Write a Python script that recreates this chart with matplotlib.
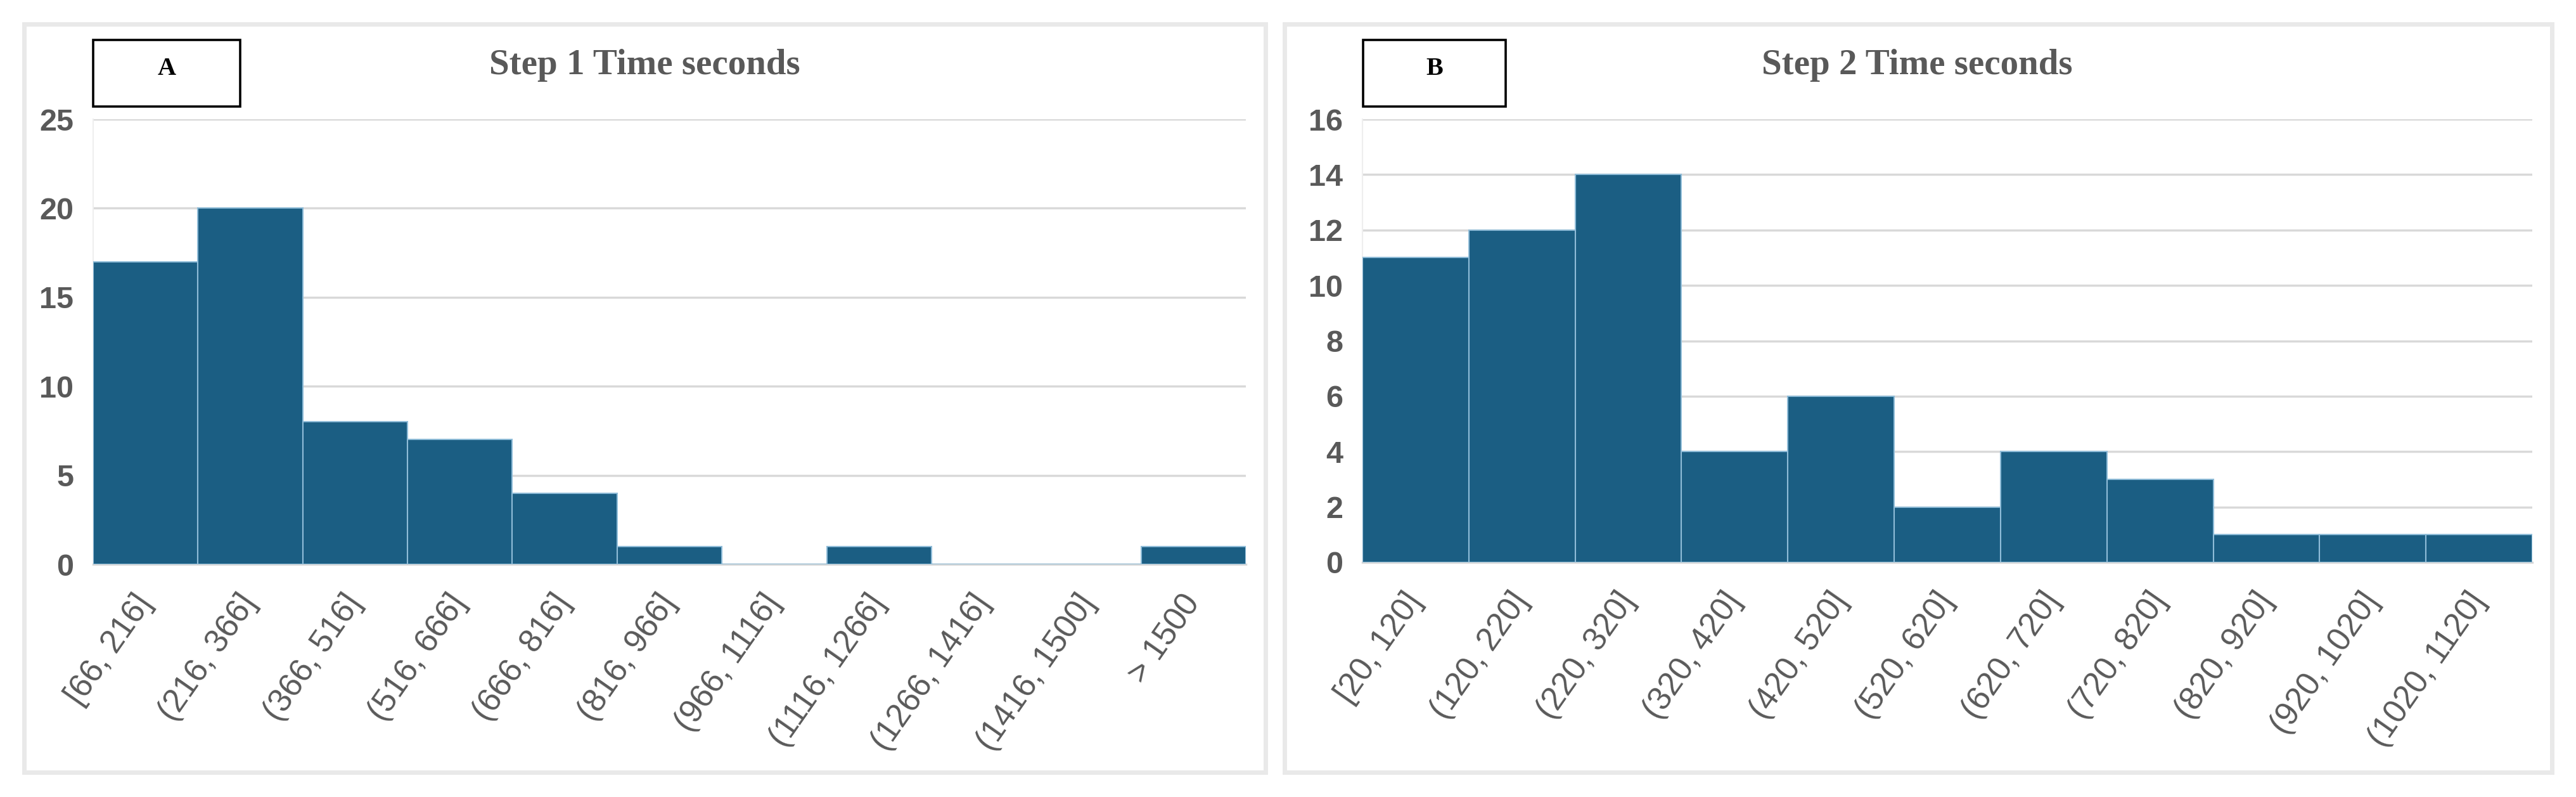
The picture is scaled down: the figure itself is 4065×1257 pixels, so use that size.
import matplotlib
matplotlib.use("Agg")
import matplotlib.pyplot as plt
from matplotlib.patches import Rectangle

# step 1 histogram
step1_bins = ["[66, 216]", "(216, 366]", "(366, 516]", "(516, 666]", "(666, 816]",
              "(816, 966]", "(966, 1116]", "(1116, 1266]", "(1266, 1416]",
              "(1416, 1500]", "> 1500"]
step1_counts = [17, 20, 8, 7, 4, 1, 0, 1, 0, 0, 1]

# step 2 histogram
step2_bins = ["[20, 120]", "(120, 220]", "(220, 320]", "(320, 420]", "(420, 520]",
              "(520, 620]", "(620, 720]", "(720, 820]", "(820, 920]",
              "(920, 1020]", "(1020, 1120]"]
step2_counts = [11, 12, 14, 4, 6, 2, 4, 3, 1, 1, 1]

BAR = "#1b5e83"
EDGE = "#8fbcd8"
GRID = "#d9d9d9"
TXT = "#595959"

W, H = 4065, 1257
fig = plt.figure(figsize=(W / 100, H / 100), dpi=100)


def fx(px):
    return px / W


def fy(py):
    return 1 - py / H


def panel(x0, x1, y0, y1):
    fig.patches.append(Rectangle((fx(x0), fy(y1)), fx(x1 - x0), (y1 - y0) / H,
                                 transform=fig.transFigure, fill=False,
                                 edgecolor="#e9e9e9", linewidth=5))


def hist(ax, bins, counts, ymax, step, title, tag, tag_box):
    x = range(len(bins))
    ax.bar(x, counts, width=1.0, color=BAR, edgecolor=EDGE, linewidth=1.5, zorder=3)
    ax.set_xlim(-0.5, len(bins) - 0.5)
    ax.set_ylim(0, ymax)
    ax.set_yticks(range(0, ymax + 1, step))
    ax.yaxis.grid(True, color=GRID, linewidth=2.5, zorder=0)
    ax.set_axisbelow(True)
    for s in ["top", "right"]:
        ax.spines[s].set_visible(False)
    ax.spines["left"].set_color("#eeeeee")
    ax.spines["left"].set_linewidth(1.5)
    ax.spines["bottom"].set_color(GRID)
    ax.spines["bottom"].set_linewidth(2.5)
    ax.set_xticks(list(x))
    ax.set_xticklabels(bins, rotation=55, ha="right", va="center",
                       rotation_mode="anchor", fontsize=37, color=TXT,
                       family="Liberation Sans")
    ax.tick_params(axis="x", length=0, pad=38)
    ax.tick_params(axis="y", length=0, pad=22, labelsize=35, labelcolor=TXT)
    for lab in ax.get_yticklabels():
        lab.set_fontweight("bold")
        lab.set_family("Liberation Sans")
    # title
    fig.text(fx(title[1]), fy(103), title[0], ha="center", va="center",
             fontsize=41, color=TXT, family="Liberation Serif", fontweight="bold")
    # tag box
    bx0, bx1, by0, by1 = tag_box
    fig.patches.append(Rectangle((fx(bx0), fy(by1)), fx(bx1 - bx0), (by1 - by0) / H,
                                 transform=fig.transFigure, fill=False,
                                 edgecolor="black", linewidth=2.6))
    fig.text(fx((bx0 + bx1) / 2), fy(108), tag, ha="center", va="center",
             fontsize=29, color="black", family="Liberation Serif", fontweight="bold")


panel(38, 1997, 38, 1218)
panel(2027, 4027, 38, 1218)

ax1 = fig.add_axes([fx(147), fy(890), fx(1966 - 147), (890 - 188) / H])
hist(ax1, step1_bins, step1_counts, 25, 5, ("Step 1 Time seconds", 1017), "A",
     (147, 379, 63, 168))

ax2 = fig.add_axes([fx(2150), fy(887), fx(3996 - 2150), (887 - 188) / H])
hist(ax2, step2_bins, step2_counts, 16, 2, ("Step 2 Time seconds", 3025), "B",
     (2151, 2376, 63, 168))

fig.savefig("out.png", dpi=100, facecolor="white")
